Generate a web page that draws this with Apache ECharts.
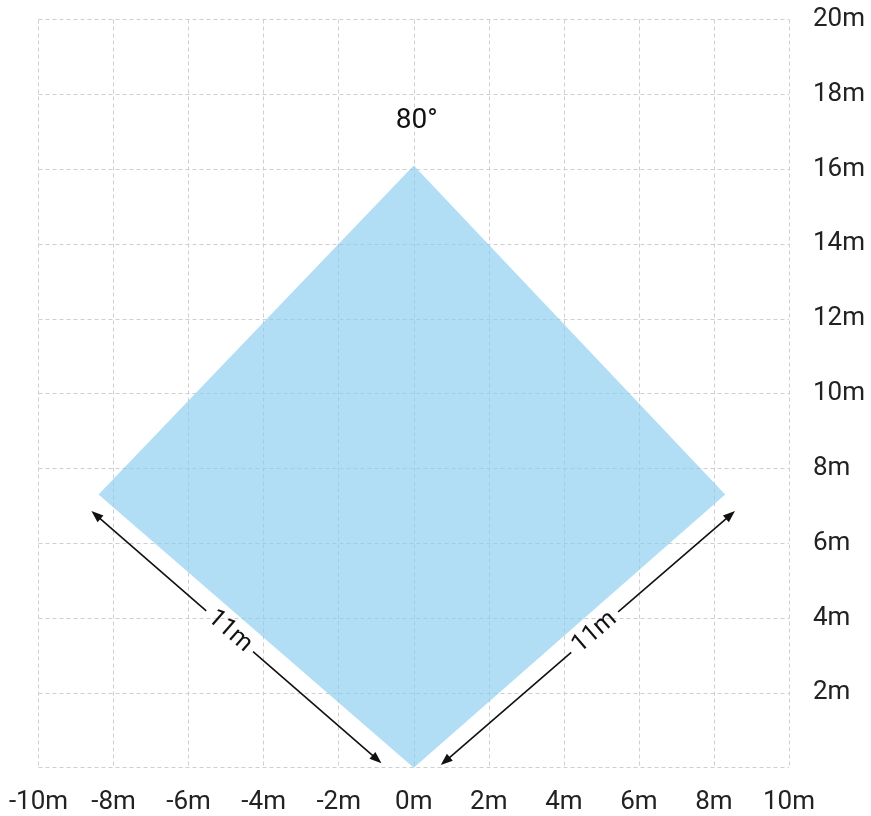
<!DOCTYPE html>
<html><head><meta charset="utf-8">
<script src="https://cdn.jsdelivr.net/npm/echarts@6/dist/echarts.min.js"></script>
<style>html,body{margin:0;padding:0;background:#fff}#c{width:871px;height:816px}</style>
</head><body><div id="c"></div>
<script>
// ---- data ----
const xTicks = [-10, -8, -6, -4, -2, 0, 2, 4, 6, 8, 10];
const yTicks = [0, 2, 4, 6, 8, 10, 12, 14, 16, 18, 20];
const unit = 'm';
// coverage area (diamond) vertices, metres
const areaX = [0, -8.4, 0, 8.3];
const areaY = [0, 7.3, 16.1, 7.3];
const apexLabel = '80°';
// dimension arrows (metres)
const arrowX1 = [-0.86, 0.72];
const arrowY1 = [0.12, 0.07];
const arrowX2 = [-8.59, 8.56];
const arrowY2 = [6.86, 6.86];
const arrowLabels = ['11m', '11m'];

const FONT = 'Roboto';
const chart = echarts.init(document.getElementById('c'), null, {renderer: 'canvas'});

const areaData = [areaX.map((x, i) => [x, areaY[i]])];
const arrowData = arrowX1.map((x, i) => [x, arrowY1[i], arrowX2[i], arrowY2[i], i]);

function arrowHead(tip, ux, uy, len, half) {
  const bx = tip[0] - ux * len, by = tip[1] - uy * len;
  return [tip, [bx - uy * half, by + ux * half], [bx + uy * half, by - ux * half]];
}

const option = {
  animation: false,
  grid: {left: 38.5, right: 82, top: 19.5, bottom: 48.3, containLabel: false},
  xAxis: {
    type: 'value', min: xTicks[0], max: xTicks[xTicks.length - 1], interval: 2,
    axisLine: {show: false}, axisTick: {show: false},
    axisLabel: {formatter: v => v + unit, fontFamily: FONT, fontSize: 26, color: '#222', margin: 22},
    splitLine: {show: true, lineStyle: {color: '#cfcfcf', type: [4, 3], width: 1}}
  },
  yAxis: {
    type: 'value', position: 'right', min: yTicks[0], max: yTicks[yTicks.length - 1], interval: 2,
    axisLine: {show: false}, axisTick: {show: false},
    axisLabel: {formatter: v => v === 0 ? '' : v + unit, fontFamily: FONT, fontSize: 26, color: '#222', margin: 24,
      padding: [4, 0, 0, 0]},
    splitLine: {show: true, lineStyle: {color: '#cfcfcf', type: [4, 3], width: 1}}
  },
  series: [
    {
      type: 'custom', coordinateSystem: 'cartesian2d', silent: true,
      data: areaData.map((pts, i) => i),
      encode: {x: [], y: []},
      renderItem: function (params, api) {
        const pts = areaData[params.dataIndex].map(p => api.coord(p));
        const top = api.coord([areaX[2], areaY[2]]);
        return {
          type: 'group',
          children: [
            {type: 'polygon', shape: {points: pts}, style: {fill: 'rgba(135,205,238,0.65)'}},
            {type: 'text', x: top[0] + 3, y: top[1] - 44,
              style: {text: apexLabel, fill: '#111', font: '28px ' + FONT, align: 'center', verticalAlign: 'middle'}}
          ]
        };
      }
    },
    {
      type: 'custom', coordinateSystem: 'cartesian2d', silent: true,
      data: arrowData,
      encode: {x: [0, 2], y: [1, 3]},
      renderItem: function (params, api) {
        const d = arrowData[params.dataIndex];
        const p1 = api.coord([d[0], d[1]]);
        const p2 = api.coord([d[2], d[3]]);
        const dx = p2[0] - p1[0], dy = p2[1] - p1[1];
        const L = Math.sqrt(dx * dx + dy * dy);
        const ux = dx / L, uy = dy / L;
        const shift = 9;
        const mid = [(p1[0] + p2[0]) / 2 + ux * shift, (p1[1] + p2[1]) / 2 + uy * shift];
        const gap = 31;
        const g1 = [mid[0] - ux * gap, mid[1] - uy * gap];
        const g2 = [mid[0] + ux * gap, mid[1] + uy * gap];
        const headLen = 12, headHalf = 4.5;
        const s1 = [p1[0] + ux * headLen * 0.8, p1[1] + uy * headLen * 0.8];
        const s2 = [p2[0] - ux * headLen * 0.8, p2[1] - uy * headLen * 0.8];
        let tx = dx, ty = dy;
        if (tx < 0) { tx = -tx; ty = -ty; }
        const rot = -Math.atan2(ty, tx);
        const lineStyle = {stroke: '#111', lineWidth: 1.6};
        return {
          type: 'group',
          children: [
            {type: 'line', shape: {x1: s1[0], y1: s1[1], x2: g1[0], y2: g1[1]}, style: lineStyle},
            {type: 'line', shape: {x1: g2[0], y1: g2[1], x2: s2[0], y2: s2[1]}, style: lineStyle},
            {type: 'polygon', shape: {points: arrowHead(p1, -ux, -uy, headLen, headHalf)}, style: {fill: '#111'}},
            {type: 'polygon', shape: {points: arrowHead(p2, ux, uy, headLen, headHalf)}, style: {fill: '#111'}},
            {type: 'text', x: mid[0], y: mid[1], rotation: rot,
              style: {text: arrowLabels[d[4]], fill: '#111', font: '25px ' + FONT, align: 'center', verticalAlign: 'middle'}}
          ]
        };
      }
    }
  ]
};
chart.setOption(option);
</script>
</body></html>
